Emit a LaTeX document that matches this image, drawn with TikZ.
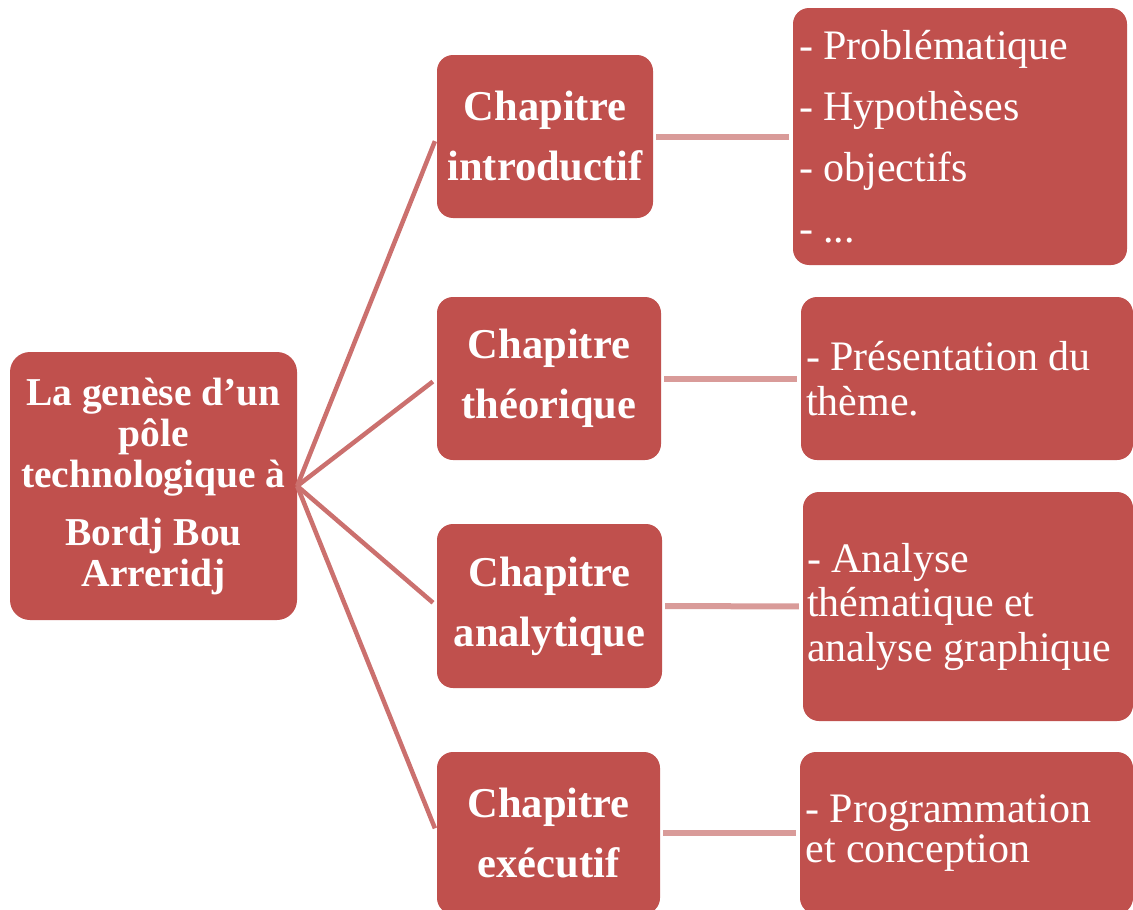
\documentclass[tikz,border=0pt]{standalone}
\usepackage{fontspec}
\setmainfont{Liberation Serif}
\definecolor{boxred}{RGB}{192,80,77}
\definecolor{linkred}{RGB}{203,112,110}
\definecolor{linkpink}{RGB}{217,155,153}
\begin{document}
\begin{tikzpicture}[x=1pt,y=-1pt,
    box/.style={fill=boxred,rounded corners=16pt,text=white,inner sep=0pt},
    chapbox/.style={box,minimum width=224pt,minimum height=163pt,align=center,
        font=\fontsize{42.5}{60}\selectfont\bfseries},
    detail/.style={box,minimum width=332pt,text width=322pt,align=flush left,
        font=\fontsize{42}{44.5}\selectfont},
    branch/.style={linkred,line width=4.5pt,shorten >=5pt},
    link/.style={linkpink,line width=6pt,shorten <=3pt,shorten >=4pt}]
    \clip (0,0) rectangle (1133,910);

    % racine
    \node[box,rounded corners=20pt,minimum width=287pt,minimum height=268pt,align=center,
        font=\fontsize{39.5}{41}\selectfont\bfseries] (root) at (153.5,486)
        {La genèse d’un\\pôle\\technologique à\\[17pt]Bordj Bou\\Arreridj};

    % chapitres
    \node[chapbox,minimum width=216pt] (intro) at (545,136.5) {Chapitre\\introductif};
    \node[chapbox] (theo) at (549,378.5) {Chapitre\\théorique};
    \node[chapbox,minimum width=225pt,minimum height=164pt] (analy) at (549.5,606) {Chapitre\\analytique};
    \node[chapbox,minimum width=223pt,minimum height=162pt] (exec) at (548.5,833) {Chapitre\\exécutif};

    % contenus
    \node[detail,minimum width=334pt,minimum height=257pt,font=\fontsize{42}{61}\selectfont] (dintro) at (960,136.5)
        {- Problématique\\- Hypothèses\\- objectifs\\- ...};
    \node[detail,minimum height=163pt] (dtheo) at (967,378.5) {- Présentation du\\thème.};
    \node[detail,minimum width=330pt,minimum height=229pt] (danaly) at (968,606.5)
        {- Analyse\\thématique et\\analyse graphique};
    \node[detail,minimum width=333pt,minimum height=162pt,font=\fontsize{42}{40}\selectfont] (dexec) at (966.5,833)
        {- Programmation\\et conception};

    % liaisons
    \foreach \c in {intro,theo,analy,exec}
        \draw[branch] (root.east) -- (\c.west);
    \draw[link] (intro.east) -- (dintro.west);
    \draw[link] (theo.east) -- (dtheo.west);
    \draw[link] (analy.east) -- (danaly.west);
    \draw[link] (exec.east) -- (dexec.west);
\end{tikzpicture}
\end{document}
